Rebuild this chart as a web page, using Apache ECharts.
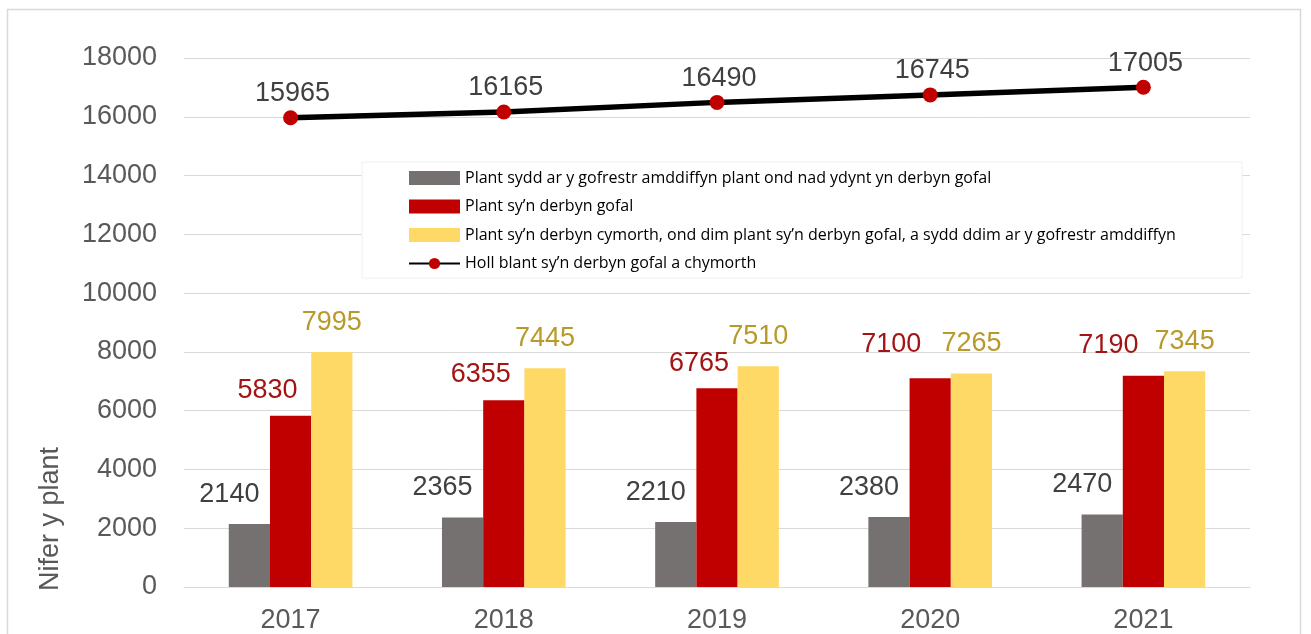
<!DOCTYPE html>
<html>
<head>
<meta charset="utf-8">
<script src="https://cdn.jsdelivr.net/npm/echarts@6/dist/echarts.min.js"></script>
<style>
html, body { margin: 0; padding: 0; background: #fff; }
#chart { width: 1311px; height: 634px; }
</style>
</head>
<body>
<div id="chart"></div>
<script>
const years = ['2017', '2018', '2019', '2020', '2021']
const onRegister = [2140, 2365, 2210, 2380, 2470]
const inCare = [5830, 6355, 6765, 7100, 7190]
const supported = [7995, 7445, 7510, 7265, 7345]
const allChildren = [15965, 16165, 16490, 16745, 17005]
const yTicks = { min: 0, max: 18000, step: 2000 }

const names = [
	'Plant sydd ar y gofrestr amddiffyn plant ond nad ydynt yn derbyn gofal',
	'Plant sy\u2019n derbyn gofal',
	'Plant sy\u2019n derbyn cymorth, ond dim plant sy\u2019n derbyn gofal, a sydd ddim ar y gofrestr amddiffyn',
	'Holl blant sy\u2019n derbyn gofal a chymorth'
]

// red labels get nudged left so they don't run into the yellow ones
const redShift = [[-23, -7], [-23, -7], [-18, -6], [-39, -15], [-35, -12]]

const font = 'Liberation Sans, Arial, sans-serif'

const chart = echarts.init(document.getElementById('chart'))
chart.setOption({
	animation: false,
	grid: { left: 184, right: 61, top: 58, bottom: 47, containLabel: false },
	legend: {
		orient: 'vertical',
		left: 403,
		top: 162,
		itemWidth: 51,
		itemHeight: 14,
		itemGap: 6.5,
		z: 5,
		textStyle: { fontFamily: 'Open Sans', fontSize: 16, lineHeight: 22, color: '#000' },
		data: [
			{ name: names[0], icon: 'rect' },
			{ name: names[1], icon: 'rect' },
			{ name: names[2], icon: 'rect' },
			{ name: names[3] }
		]
	},
	graphic: [
		{
			type: 'rect', z: 3,
			shape: { x: 362, y: 162, width: 880, height: 116 },
			style: { fill: '#fff', stroke: '#f0f0f0', lineWidth: 1 }
		},
		{
			type: 'rect', z: 10, silent: true,
			shape: { x: 7.5, y: 9.5, width: 1293, height: 700 },
			style: { fill: 'none', stroke: '#d9d9d9', lineWidth: 1.5 }
		},
		{
			type: 'text', z: 10,
			x: 51, y: 519, rotation: Math.PI / 2,
			style: {
				text: 'Nifer y plant', align: 'center', verticalAlign: 'middle',
				font: '27px ' + font, fill: '#595959'
			}
		}
	],
	xAxis: {
		type: 'category',
		data: years,
		axisLine: { lineStyle: { color: '#d9d9d9' } },
		axisTick: { show: false },
		axisLabel: { fontFamily: font, fontSize: 27, color: '#595959', margin: 20 }
	},
	yAxis: {
		type: 'value',
		min: yTicks.min,
		max: yTicks.max,
		interval: yTicks.step,
		axisLine: { show: false },
		axisTick: { show: false },
		splitLine: { lineStyle: { color: '#d9d9d9', width: 1 } },
		axisLabel: {
			fontFamily: font, fontSize: 27, color: '#595959', margin: 27,
			formatter: v => String(v)
		}
	},
	series: [
		{
			name: names[0],
			type: 'bar',
			data: onRegister,
			barGap: '0%',
			barCategoryGap: '42%',
			itemStyle: { color: '#767171' },
			label: {
				show: true, position: 'top', offset: [-20, -11],
				fontFamily: font, fontSize: 27, color: '#404040'
			}
		},
		{
			name: names[1],
			type: 'bar',
			data: inCare.map((v, i) => ({
				value: v,
				label: { offset: redShift[i] }
			})),
			itemStyle: { color: '#C00000' },
			label: {
				show: true, position: 'top',
				fontFamily: font, fontSize: 27, color: '#A31515'
			}
		},
		{
			name: names[2],
			type: 'bar',
			data: supported,
			itemStyle: { color: '#FFD966' },
			label: {
				show: true, position: 'top', offset: [0, -11],
				fontFamily: font, fontSize: 27, color: '#B8992A'
			}
		},
		{
			name: names[3],
			type: 'line',
			data: allChildren,
			symbol: 'circle',
			symbolSize: 15,
			z: 4,
			lineStyle: { color: '#000', width: 5.5 },
			itemStyle: { color: '#C00000' },
			label: {
				show: true, position: 'top', offset: [2, 2],
				fontFamily: font, fontSize: 27, color: '#404040'
			}
		}
	]
})
window.addEventListener('resize', () => chart.resize())
</script>
</body>
</html>
